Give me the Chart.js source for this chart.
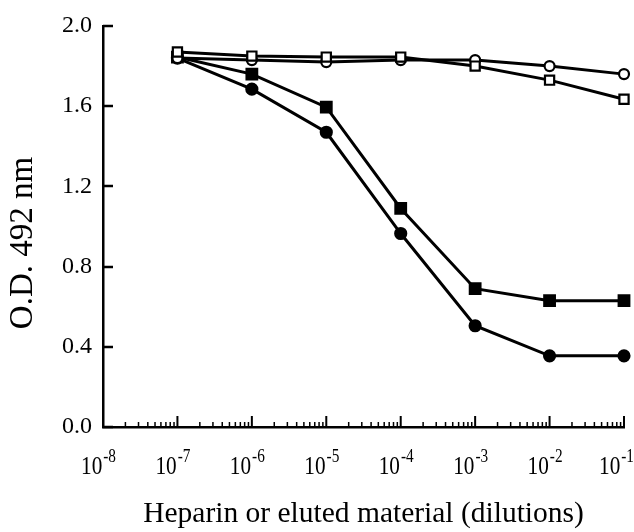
<!DOCTYPE html>
<html>
<head>
<meta charset="utf-8">
<script src="https://cdn.jsdelivr.net/npm/chart.js@4"></script>
<style>
  html, body { margin: 0; padding: 0; background: #fff; }
</style>
</head>
<body>
<canvas id="chart" width="634" height="532"></canvas>
<script>
// Values
const dilutions = [1e-7, 1e-6, 1e-5, 1e-4, 1e-3, 1e-2, 1e-1];
const openCircles = [1.84, 1.83, 1.82, 1.83, 1.83, 1.80, 1.76];
const openSquares = [1.87, 1.85, 1.845, 1.845, 1.80, 1.73, 1.635];
const filledSquares = [1.845, 1.76, 1.595, 1.09, 0.69, 0.63, 0.63];
const filledCircles = [1.84, 1.685, 1.47, 0.965, 0.505, 0.355, 0.355];
const yTicks = [0, 0.4, 0.8, 1.2, 1.6, 2.0];
const xDecades = [-8, -7, -6, -5, -4, -3, -2, -1];

const SERIF = '"Liberation Serif", "Times New Roman", serif';

function points(values) {
  return dilutions.map((d, i) => ({ x: d, y: values[i] }));
}

function series(values, style, filled, radius) {
  return {
    data: points(values),
    borderColor: '#000',
    borderWidth: 3,
    pointStyle: style,
    pointRadius: radius,
    pointBorderWidth: 2.2,
    pointBorderColor: '#000',
    pointBackgroundColor: filled ? '#000' : '#fff',
    tension: 0,
    fill: false,
    clip: false
  };
}

/**
 * Inward tick marks and the 10^n labels, drawn on top of the axes
 */
const axisTicks = {
  id: 'axisTicks',
  afterDraw(chart) {
    const { ctx, chartArea, scales: { x, y } } = chart;
    const left = chartArea.left;
    const bottom = chartArea.bottom;
    ctx.save();
    ctx.strokeStyle = '#000';

    // y ticks
    ctx.lineWidth = 2.5;
    ctx.beginPath();
    yTicks.forEach(v => {
      const py = Math.round(y.getPixelForValue(v));
      ctx.moveTo(left, py);
      ctx.lineTo(left + 10, py);
    });
    ctx.stroke();

    // x major ticks
    ctx.lineWidth = 2;
    ctx.beginPath();
    xDecades.forEach((k, i) => {
      if (i === 0) return;
      const px = x.getPixelForValue(Math.pow(10, k));
      ctx.moveTo(px, bottom);
      ctx.lineTo(px, bottom - 11);
    });
    ctx.stroke();

    // x minor ticks
    ctx.lineWidth = 1.5;
    ctx.beginPath();
    xDecades.slice(0, -1).forEach(k => {
      for (let m = 2; m <= 9; m++) {
        const px = x.getPixelForValue(m * Math.pow(10, k));
        ctx.moveTo(px, bottom);
        ctx.lineTo(px, bottom - 5);
      }
    });
    ctx.stroke();

    // x labels: "10" with a raised exponent (type in the figure is a bit narrow)
    ctx.fillStyle = '#000';
    ctx.textBaseline = 'alphabetic';
    ctx.textAlign = 'left';
    const squeeze = 0.85;
    const baseFont = '25px ' + SERIF;
    const expFont = '18px ' + SERIF;
    xDecades.forEach(k => {
      const px = x.getPixelForValue(Math.pow(10, k));
      const exp = String(k);
      ctx.font = baseFont;
      const w1 = ctx.measureText('10').width * squeeze;
      ctx.font = expFont;
      const w2 = ctx.measureText(exp).width * squeeze;
      let start = px - (w1 + w2) / 2 - 5;
      start = Math.min(start, chart.width - w1 - w2 - 1);
      ctx.save();
      ctx.translate(start, 474);
      ctx.scale(squeeze, 1);
      ctx.font = baseFont;
      ctx.fillText('10', 0, 0);
      ctx.font = expFont;
      ctx.fillText(exp, (w1 + 1) / squeeze, -12);
      ctx.restore();
    });
    ctx.restore();
  }
};

new Chart(document.getElementById('chart').getContext('2d'), {
  type: 'line',
  data: {
    datasets: [
      series(openSquares, 'rect', false, 6.5),
      series(openCircles, 'circle', false, 5),
      series(filledSquares, 'rect', true, 7.5),
      series(filledCircles, 'circle', true, 5.5)
    ]
  },
  options: {
    responsive: false,
    animation: false,
    devicePixelRatio: 1,
    layout: {
      padding: { top: 26, right: 10, bottom: 0, left: 0 }
    },
    plugins: {
      legend: { display: false },
      tooltip: { enabled: false }
    },
    scales: {
      x: {
        type: 'logarithmic',
        min: 1e-8,
        max: 1e-1,
        afterFit: (scale) => { scale.height = 105; },
        grid: { display: true, drawOnChartArea: false, drawTicks: false },
        border: { display: true, color: '#000', width: 2.5 },
        ticks: { display: false },
        title: {
          display: true,
          text: 'Heparin or eluted material (dilutions)',
          color: '#000',
          font: { family: SERIF, size: 29.5 },
          padding: { top: 0, bottom: 0 }
        }
      },
      y: {
        min: 0,
        max: 2,
        afterFit: (scale) => { scale.width = 103; },
        afterBuildTicks: (scale) => { scale.ticks = yTicks.map(v => ({ value: v })); },
        grid: { display: true, drawOnChartArea: false, drawTicks: false },
        border: { display: true, color: '#000', width: 2.5 },
        ticks: {
          color: '#000',
          padding: 11,
          font: { family: SERIF, size: 24 },
          callback: (value) => Number(value).toFixed(1)
        },
        title: {
          display: true,
          // trailing spaces push the centred title down a little, as in the figure
          text: 'O.D. 492 nm    ',
          color: '#000',
          font: { family: SERIF, size: 33 },
          padding: { top: 4, bottom: 0 }
        }
      }
    }
  },
  plugins: [axisTicks]
});
</script>
</body>
</html>
